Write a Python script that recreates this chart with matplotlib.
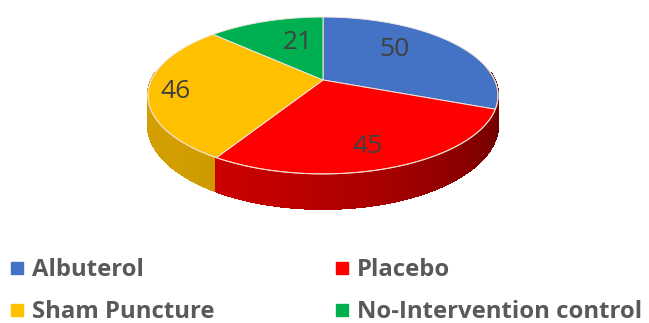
import numpy as np
import matplotlib
matplotlib.use("Agg")
import matplotlib.pyplot as plt
from matplotlib.collections import PolyCollection
from matplotlib.lines import Line2D

plt.rcParams['font.family'] = ['Open Sans', 'DejaVu Sans']

# data
labels = ['Albuterol', 'Placebo', 'Sham Puncture', 'No-Intervention control']
values = [50, 45, 46, 21]
colors = ['#4472C4', '#FF0000', '#FFC000', '#00B050']

# layout of the fake 3d pie (pixel space)
CX, CY = 323, 80        # projected centre
A, B = 171.6, 75.4      # half axes of the disc
K = 0.197               # perspective strength
H = 28                  # thickness
# label placement: radius and angle shift (deg) from the slice middle
LABEL_R = [0.635, 0.78, 0.845, 0.567]
LABEL_DA = [10.3, -2.6, 2.7, -6.8]


def proj(phi, r=1.0, drop=0.0):
    w = 1 + K * r * np.sin(phi)
    x = CX + A * r * np.cos(phi) / w
    y = CY - B * r * np.sin(phi) / w + drop / w
    return x, y


def shade(phi):
    # lighter on the front-left, dark on the right
    return 0.596 + 0.233 * np.cos(phi - np.radians(-150))


fig = plt.figure(figsize=(6.49, 3.23), dpi=100)
ax = fig.add_axes([0, 0, 1, 1])
ax.set_xlim(0, 649)
ax.set_ylim(323, 0)
ax.axis('off')

# slice angles, start at 12 o'clock, clockwise
total = sum(values)
edges = 90 - np.cumsum([0] + values) / total * 360
starts, ends = edges[:-1], edges[1:]


def owner(deg):
    for i in range(len(values)):
        for dd in (deg, deg - 360, deg + 360):
            if ends[i] <= dd <= starts[i]:
                return i
    return 0


# side wall as thin strips
step = 0.5
phis = np.arange(-185, 5 + step, step)
polys, fcs, order = [], [], []
for p0, p1 in zip(phis[:-1], phis[1:]):
    a0, a1 = np.radians(p0), np.radians(p1)
    x0, y0 = proj(a0)
    x1, y1 = proj(a1)
    _, b0 = proj(a0, drop=H)
    _, b1 = proj(a1, drop=H)
    polys.append([(x0, y0), (x1, y1), (x1, b1), (x0, b0)])
    mid = (p0 + p1) / 2
    i = owner(mid)
    if i == 0:
        i = 1  # keep the right edge in the red wall like the original
    rgb = np.array(matplotlib.colors.to_rgb(colors[i])) * shade(np.radians(mid))
    fcs.append(np.clip(rgb, 0, 1))
    order.append(-np.sin(np.radians(mid)))
idx = np.argsort(order)
polys = [polys[j] for j in idx]
fcs = [fcs[j] for j in idx]
ax.add_collection(PolyCollection(polys, facecolors=fcs, edgecolors=fcs,
                                 linewidths=1.0, antialiased=False))

# top face
for i in range(len(values)):
    t = np.radians(np.linspace(starts[i], ends[i], 200))
    xs, ys = proj(t)
    pts = [(CX, CY)] + list(zip(xs, ys))
    ax.add_patch(plt.Polygon(pts, closed=True, facecolor=colors[i],
                             edgecolor='#F4E8E0', linewidth=0.7))

# light rim on the front edge
t = np.radians(np.linspace(-190, 10, 300))
xs, ys = proj(t)
ax.plot(xs, ys, color='#F6D9C8', lw=0.7)

# data labels
for i in range(len(values)):
    mid = np.radians((starts[i] + ends[i]) / 2 + LABEL_DA[i])
    x, y = proj(mid, r=LABEL_R[i])
    ax.text(x, y, str(values[i]), ha='center', va='center',
            fontsize=19, color='#404040')

# legend
handles = [Line2D([], [], marker='s', linestyle='none', markersize=8.6,
                  markerfacecolor=c, markeredgecolor=c) for c in colors]
ordr = [0, 2, 1, 3]
fig.legend([handles[i] for i in ordr], [labels[i] for i in ordr],
           ncol=2, loc='upper left', bbox_to_anchor=(11 / 649, 0.2),
           frameon=False, borderpad=0, borderaxespad=0,
           handlelength=0.5, handletextpad=0.4,
           columnspacing=5.05, labelspacing=0.75,
           prop={'size': 17.2, 'weight': 'bold'}, labelcolor='#595959')

fig.savefig('out.png', dpi=100)
